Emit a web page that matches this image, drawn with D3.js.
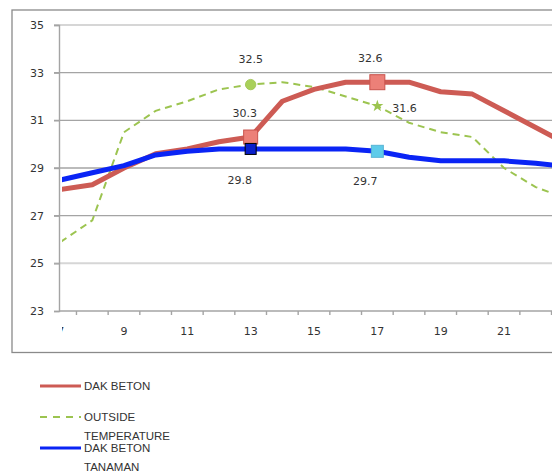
<!DOCTYPE html>
<html>
<head>
<meta charset="utf-8">
<script src="https://cdn.jsdelivr.net/npm/d3@7"></script>
<style>
  html, body { margin: 0; padding: 0; background: #fff; }
  svg { display: block; }
</style>
</head>
<body>
<svg id="chart" width="552" height="474"></svg>
<script>
// Hourly temperatures (°C)
const hours = [7, 8, 9, 10, 11, 12, 13, 14, 15, 16, 17, 18, 19, 20, 21, 22, 23];
const dakBeton = [28.1, 28.3, 29.0, 29.6, 29.8, 30.1, 30.3, 31.8, 32.3, 32.6, 32.6, 32.6, 32.2, 32.1, 31.4, 30.7, 30.0];
const outsideTemp = [25.9, 26.8, 30.5, 31.4, 31.8, 32.3, 32.5, 32.6, 32.4, 32.0, 31.6, 30.9, 30.5, 30.3, 29.0, 28.2, 27.7];
const dakBetonTanaman = [28.5, 28.8, 29.1, 29.55, 29.7, 29.8, 29.8, 29.8, 29.8, 29.8, 29.7, 29.45, 29.3, 29.3, 29.3, 29.2, 29.05];
const yTicks = [23, 25, 27, 29, 31, 33, 35];
const xLabels = [7, 9, 11, 13, 15, 17, 19, 21];

const svg = d3.select("#chart");

const x = d3.scaleBand().domain(hours).range([44.8, 583.2]).padding(0);
const cx = h => x(h) + x.bandwidth() / 2;
const y = d3.scaleLinear().domain([23, 35]).range([311, 25]);

const plotLeft = 59, plotRight = 600;

// outer frame
svg.append("rect")
  .attr("x", 12).attr("y", 10).attr("width", 620).attr("height", 342.5)
  .attr("fill", "none").attr("stroke", "#8a8a8a").attr("stroke-width", 1.3);

// horizontal gridlines
const grid = svg.append("g");
yTicks.filter(v => v > 23).forEach(v => {
  const light = (v === 25 || v === 35);
  grid.append("line")
    .attr("x1", 54).attr("x2", plotRight)
    .attr("y1", y(v)).attr("y2", y(v))
    .attr("stroke", light ? "#d6d6d6" : "#a4a4a4")
    .attr("stroke-width", light ? 2 : 1.4);
});

// y axis
const yAxis = d3.axisLeft(y).tickValues(yTicks).tickSize(5).tickPadding(10);
const yg = svg.append("g").attr("transform", `translate(${plotLeft},0)`).call(yAxis);
yg.select(".domain").attr("stroke", "#a4a4a4").attr("stroke-width", 1.4);
yg.selectAll(".tick line").attr("stroke", "#a4a4a4").attr("stroke-width", 1.4);
yg.selectAll("text")
  .attr("font-family", "DejaVu Sans").attr("font-size", 11).attr("fill", "#333");

// x axis baseline and boundary ticks
svg.append("line")
  .attr("x1", plotLeft).attr("x2", plotRight).attr("y1", y(23)).attr("y2", y(23))
  .attr("stroke", "#a4a4a4").attr("stroke-width", 1.4);
hours.slice(1).forEach(h => {
  svg.append("line")
    .attr("x1", x(h)).attr("x2", x(h)).attr("y1", y(23)).attr("y2", y(23) + 4)
    .attr("stroke", "#a4a4a4").attr("stroke-width", 1.4);
});

// clipping for the plot and the x labels
const defs = svg.append("defs");
defs.append("clipPath").attr("id", "plotClip")
  .append("rect").attr("x", 62).attr("y", 0).attr("width", 600).attr("height", 352);

const xAxis = d3.axisBottom(x).tickValues(xLabels).tickSize(0).tickPadding(16);
const xg = svg.append("g")
  .attr("transform", `translate(0,${y(23)})`)
  .attr("clip-path", "url(#plotClip)")
  .call(xAxis);
xg.select(".domain").remove();
xg.selectAll("text")
  .attr("font-family", "DejaVu Sans").attr("font-size", 11).attr("fill", "#333");

// series lines
const line = d3.line().x((d, i) => cx(hours[i])).y(d => y(d));
const plot = svg.append("g").attr("clip-path", "url(#plotClip)");

plot.append("path").datum(outsideTemp)
  .attr("d", line).attr("fill", "none")
  .attr("stroke", "#9cc450").attr("stroke-width", 2)
  .attr("stroke-dasharray", "7,5");

plot.append("path").datum(dakBeton)
  .attr("d", line).attr("fill", "none")
  .attr("stroke", "#cd5b54").attr("stroke-width", 5)
  .attr("stroke-linejoin", "round");

plot.append("path").datum(dakBetonTanaman)
  .attr("d", line).attr("fill", "none")
  .attr("stroke", "#0a24f5").attr("stroke-width", 5)
  .attr("stroke-linejoin", "round");

// markers at the marked hours
const val = (arr, h) => arr[hours.indexOf(h)];
const square = (h, v, size, fill, stroke) => {
  plot.append("rect")
    .attr("x", cx(h) - size / 2).attr("y", y(v) - size / 2)
    .attr("width", size).attr("height", size)
    .attr("fill", fill).attr("stroke", stroke).attr("stroke-width", 1);
};

// outside temperature markers
plot.append("circle")
  .attr("cx", cx(13)).attr("cy", y(val(outsideTemp, 13))).attr("r", 5.2)
  .attr("fill", "#a9d05a").attr("stroke", "#9cc04c").attr("stroke-width", 0.8);
plot.append("path")
  .attr("transform", `translate(${cx(17)},${y(val(outsideTemp, 17))})`)
  .attr("d", d3.symbol(d3.symbolStar, 45)())
  .attr("fill", "#9cc450");

square(13, val(dakBeton, 13), 14, "#ec8078", "#c9534c");
square(17, val(dakBeton, 17), 15, "#ec8078", "#c9534c");
square(13, val(dakBetonTanaman, 13), 11, "#0a1fcc", "#000");
square(17, val(dakBetonTanaman, 17), 12, "#5ecbea", "#58b4d4");

// value labels
const labelFont = sel => sel.attr("font-family", "DejaVu Sans").attr("font-size", 11).attr("fill", "#333");
const addLabel = (txt, px, py, anchor) => {
  svg.append("text").text(txt)
    .attr("x", px).attr("y", py).attr("text-anchor", anchor).call(labelFont);
};
addLabel(d3.format(".1f")(val(outsideTemp, 13)), cx(13), y(val(outsideTemp, 13)) - 22, "middle");
addLabel(d3.format(".1f")(val(dakBeton, 13)), cx(13) - 6, y(val(dakBeton, 13)) - 20, "middle");
addLabel(d3.format(".1f")(val(dakBetonTanaman, 13)), cx(13) - 11, y(val(dakBetonTanaman, 13)) + 35, "middle");
addLabel(d3.format(".1f")(val(dakBeton, 17)), cx(17) - 7, y(val(dakBeton, 17)) - 20, "middle");
addLabel(d3.format(".1f")(val(outsideTemp, 17)), cx(17) + 15, y(val(outsideTemp, 17)) + 6, "start");
addLabel(d3.format(".1f")(val(dakBetonTanaman, 17)), cx(17) - 12, y(val(dakBetonTanaman, 17)) + 34, "middle");

// legend
const legend = svg.append("g");
const legendFont = sel => sel.attr("font-family", "Liberation Sans").attr("font-size", 11.5).attr("fill", "#333");
const legendItems = [
  { lines: ["DAK BETON"], color: "#cd5b54", width: 3, dash: null, y: 386 },
  { lines: ["OUTSIDE", "TEMPERATURE"], color: "#9cc450", width: 2.2, dash: "7,6", y: 417 },
  { lines: ["DAK BETON", "TANAMAN"], color: "#0a24f5", width: 3, dash: null, y: 448 }
];
legendItems.forEach(it => {
  legend.append("line")
    .attr("x1", 40).attr("x2", 81).attr("y1", it.y).attr("y2", it.y)
    .attr("stroke", it.color).attr("stroke-width", it.width)
    .attr("stroke-dasharray", it.dash);
  it.lines.forEach((t, k) => {
    legend.append("text").text(t)
      .attr("x", 84).attr("y", it.y + 4 + k * 18.5)
      .call(legendFont);
  });
});
</script>
</body>
</html>
